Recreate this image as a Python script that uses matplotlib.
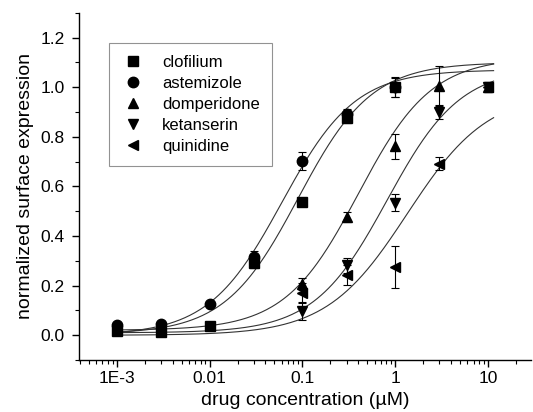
import numpy as np
from matplotlib import pyplot as plt

plt.rcParams['font.family'] = ['Liberation Sans', 'DejaVu Sans']

# concentrations (uM)
conc_a = [0.001, 0.003, 0.01, 0.03, 0.1, 0.3, 1]
conc_b = [0.1, 0.3, 1, 3, 10]

clofilium = [0.016, 0.014, 0.038, 0.293, 0.539, 0.874, 0.999]
clofilium_err = [0.01, 0.01, 0.01, 0.02, 0.01, 0.02, 0.04]
astemizole = [0.04, 0.047, 0.125, 0.316, 0.703, 0.891, 1.0]
astemizole_err = [0.01, 0.01, 0.01, 0.025, 0.035, 0.02, 0.04]
domperidone = [0.206, 0.477, 0.762, 1.004, 1.0]
domperidone_err = [0.025, 0.02, 0.05, 0.08, 0.02]
ketanserin = [0.098, 0.282, 0.534, 0.9, 1.0]
ketanserin_err = [0.035, 0.03, 0.035, 0.03, 0.02]
quinidine = [0.172, 0.242, 0.276, 0.692, 1.0]
quinidine_err = [0.04, 0.04, 0.085, 0.025, 0.02]

# fitted Hill parameters: bottom, top, EC50, slope
fit_clofilium = (0.005, 1.10, 0.09, 1.1)
fit_astemizole = (0.0, 1.07, 0.06, 1.1)
fit_domperidone = (0.02, 1.12, 0.4, 1.1)
fit_ketanserin = (0.01, 1.08, 0.82, 1.1)
fit_quinidine = (0.0, 0.98, 1.35, 1.0)


def hill(x, p):
    bottom, top, ec50, n = p
    return bottom + (top - bottom) / (1 + (ec50 / x) ** n)


fig = plt.figure(figsize=(5.33, 4.12), dpi=100)
ax = fig.add_axes([0.148, 0.126, 0.848, 0.843])

xfit = np.logspace(-3, np.log10(11.5), 300)
for p in [fit_clofilium, fit_astemizole, fit_domperidone, fit_ketanserin, fit_quinidine]:
    ax.plot(xfit, hill(xfit, p), color='#333333', lw=0.8)

series = [
    (conc_a, clofilium, clofilium_err, 's', 'clofilium'),
    (conc_a, astemizole, astemizole_err, 'o', 'astemizole'),
    (conc_b, domperidone, domperidone_err, '^', 'domperidone'),
    (conc_b, ketanserin, ketanserin_err, 'v', 'ketanserin'),
    (conc_b, quinidine, quinidine_err, '<', 'quinidine'),
]
for x, y, e, m, lab in series:
    ax.errorbar(x, y, yerr=e, fmt=m, color='black', ms=7.5, lw=0.8,
                capsize=3, capthick=0.8, label=lab)

ax.set_xscale('log')
ax.set_xlim(3.9e-4, 29)
ax.set_ylim(-0.1, 1.3)
ax.set_xticks([0.001, 0.01, 0.1, 1, 10])
ax.set_xticklabels(['1E-3', '0.01', '0.1', '1', '10'])
ax.set_yticks(np.arange(0, 1.21, 0.2))
ax.set_yticklabels(['0.0', '0.2', '0.4', '0.6', '0.8', '1.0', '1.2'])
ax.set_yticks(np.arange(-0.1, 1.31, 0.1), minor=True)

for s in ['top', 'right']:
    ax.spines[s].set_visible(False)
for s in ['left', 'bottom']:
    ax.spines[s].set_linewidth(1.0)
ax.tick_params(which='major', length=5, width=1.0, labelsize=12.5, pad=3)
ax.tick_params(which='minor', length=3, width=0.8)
ax.tick_params(axis='y', which='major', pad=5)

ax.set_xlabel('drug concentration (\u00b5M)', fontsize=14, labelpad=4)
ax.set_ylabel('normalized surface expression', fontsize=14, labelpad=5)

handles, labels = ax.get_legend_handles_labels()
handles = [h[0] for h in handles]
leg = ax.legend(handles, labels, loc='upper left', bbox_to_anchor=(0.067, 0.914),
                fontsize=12, frameon=True, fancybox=False, edgecolor='#777777',
                handletextpad=1.0, labelspacing=0.37, borderpad=0.72,
                handlelength=1.45, borderaxespad=0)
leg.get_frame().set_linewidth(0.8)

plt.savefig('out.png', dpi=100)
